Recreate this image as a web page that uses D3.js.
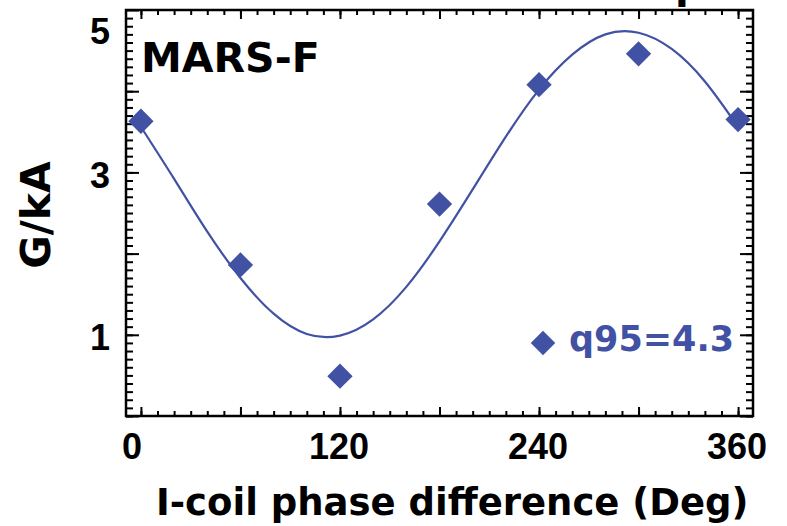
<!DOCTYPE html>
<html>
<head>
<meta charset="utf-8">
<script src="https://cdn.jsdelivr.net/npm/d3@7"></script>
<style>
    html, body { margin: 0; padding: 0; background: #fff; }
    svg { display: block; }
</style>
</head>
<body>
<svg id="chart" width="787" height="526"></svg>
<script>
// 측정점 (마름모)
var phaseDeg = [0, 60, 120, 180, 240, 300, 360];
var gPerKA = [3.63, 1.86, 0.49, 2.61, 4.08, 4.46, 3.65];

// 사인 피팅 곡선 — 그림에서 20도 간격으로 읽음
var fitDeg = [0, 20, 40, 60, 80, 100, 120, 140, 160, 180, 200, 220, 240, 260, 280, 300, 320, 340, 360];
var fitVal = [3.56, 2.92, 2.27, 1.70, 1.26, 1.01, 0.99, 1.19, 1.59, 2.15, 2.79, 3.44, 4.02, 4.45, 4.70, 4.72, 4.52, 4.12, 3.56];

var xMajor = [0, 60, 120, 180, 240, 300, 360];
var xLabels = [0, 120, 240, 360];
var yMajor = [0, 1, 2, 3, 4, 5];
var yLabels = [1, 3, 5];

var BLUE = '#4151a3';

(function () {
    var svg = d3.select('#chart');
    var L = 126, R = 753, T = 10, B = 416;

    var x = d3.scaleLinear().domain([-9, 369]).range([L, R]);
    var y = d3.scaleLinear().domain([0, 5]).range([B, T]);

    var xMinor = d3.range(-0, 361, 10);
    var yMinor = d3.range(0, 50, 1).map(function (i) { return i / 10; });

    // 네 변 모두 안쪽 눈금 (IDL 스타일)
    function ticks(axis, tr) {
        var g = svg.append('g').attr('transform', tr).call(axis);
        g.select('.domain').remove();
        g.selectAll('text').remove();
        g.selectAll('line').attr('stroke', '#000').attr('stroke-width', 2);
    }
    ticks(d3.axisBottom(x).tickValues(xMinor).tickSize(-5), 'translate(0,' + B + ')');
    ticks(d3.axisBottom(x).tickValues(xMajor).tickSize(-9), 'translate(0,' + B + ')');
    ticks(d3.axisTop(x).tickValues(xMinor).tickSize(-5), 'translate(0,' + T + ')');
    ticks(d3.axisTop(x).tickValues(xMajor).tickSize(-9), 'translate(0,' + T + ')');
    ticks(d3.axisLeft(y).tickValues(yMinor).tickSize(-7), 'translate(' + L + ',0)');
    ticks(d3.axisLeft(y).tickValues(yMajor).tickSize(-13), 'translate(' + L + ',0)');
    ticks(d3.axisRight(y).tickValues(yMinor).tickSize(-7), 'translate(' + R + ',0)');
    ticks(d3.axisRight(y).tickValues(yMajor).tickSize(-13), 'translate(' + R + ',0)');

    // 프레임
    svg.append('rect')
        .attr('x', L).attr('y', T)
        .attr('width', R - L).attr('height', B - T)
        .attr('fill', 'none')
        .attr('stroke', '#000')
        .attr('stroke-width', 2.5);

    // 눈금 라벨
    svg.append('g').selectAll('text')
        .data(xLabels).join('text')
        .attr('x', function (d) { return x(d) + (d === 0 ? -9 : -1); })
        .attr('y', 459)
        .attr('text-anchor', 'middle')
        .attr('font-family', '"Liberation Sans", Arial, sans-serif')
        .attr('font-weight', 700)
        .attr('font-size', 36)
        .text(function (d) { return d; });

    svg.append('g').selectAll('text')
        .data(yLabels).join('text')
        .attr('x', 110)
        .attr('y', function (d) { return Math.max(y(d), 28) + 3; })
        .attr('dy', '0.35em')
        .attr('text-anchor', 'end')
        .attr('font-family', '"Liberation Sans", Arial, sans-serif')
        .attr('font-weight', 700)
        .attr('font-size', 36)
        .text(function (d) { return d; });

    // 축 제목
    svg.append('text')
        .attr('x', 156).attr('y', 515)
        .attr('font-family', '"DejaVu Sans", sans-serif')
        .attr('font-weight', 700)
        .attr('font-size', 37)
        .text('I-coil phase difference (Deg)');

    svg.append('text')
        .attr('transform', 'translate(50,215) rotate(-90)')
        .attr('text-anchor', 'middle')
        .attr('font-family', '"DejaVu Sans", sans-serif')
        .attr('font-weight', 700)
        .attr('font-size', 41)
        .text('G/kA');

    // 잘린 상단 제목 조각
    svg.append('text')
        .attr('x', 675).attr('y', -2)
        .attr('font-family', '"DejaVu Sans", sans-serif')
        .attr('font-weight', 700)
        .attr('font-size', 40)
        .text('p');

    // 패널 라벨
    svg.append('text')
        .attr('x', 141).attr('y', 72)
        .attr('font-family', '"DejaVu Sans", sans-serif')
        .attr('font-weight', 700)
        .attr('font-size', 41)
        .text('MARS-F');

    // 피팅 곡선
    var line = d3.line()
        .x(function (d, i) { return x(fitDeg[i]); })
        .y(function (d) { return y(d); })
        .curve(d3.curveNatural);
    svg.append('path')
        .attr('d', line(fitVal))
        .attr('fill', 'none')
        .attr('stroke', BLUE)
        .attr('stroke-width', 2.2);

    // 마름모 = 45도 돌린 사각형
    var diamond = d3.symbol().type(d3.symbolSquare).size(320);
    svg.append('g').selectAll('path')
        .data(phaseDeg).join('path')
        .attr('d', diamond)
        .attr('transform', function (d, i) {
            return 'translate(' + x(d) + ',' + y(gPerKA[i]) + ') rotate(45)';
        })
        .attr('fill', BLUE);

    // 범례
    svg.append('path')
        .attr('d', d3.symbol().type(d3.symbolSquare).size(300))
        .attr('transform', 'translate(543,343) rotate(45)')
        .attr('fill', BLUE);
    svg.append('text')
        .attr('x', 569).attr('y', 351)
        .attr('font-family', '"DejaVu Sans", sans-serif')
        .attr('font-weight', 700)
        .attr('font-size', 35)
        .attr('fill', BLUE)
        .text('q95=4.3');
})();
</script>
</body>
</html>
